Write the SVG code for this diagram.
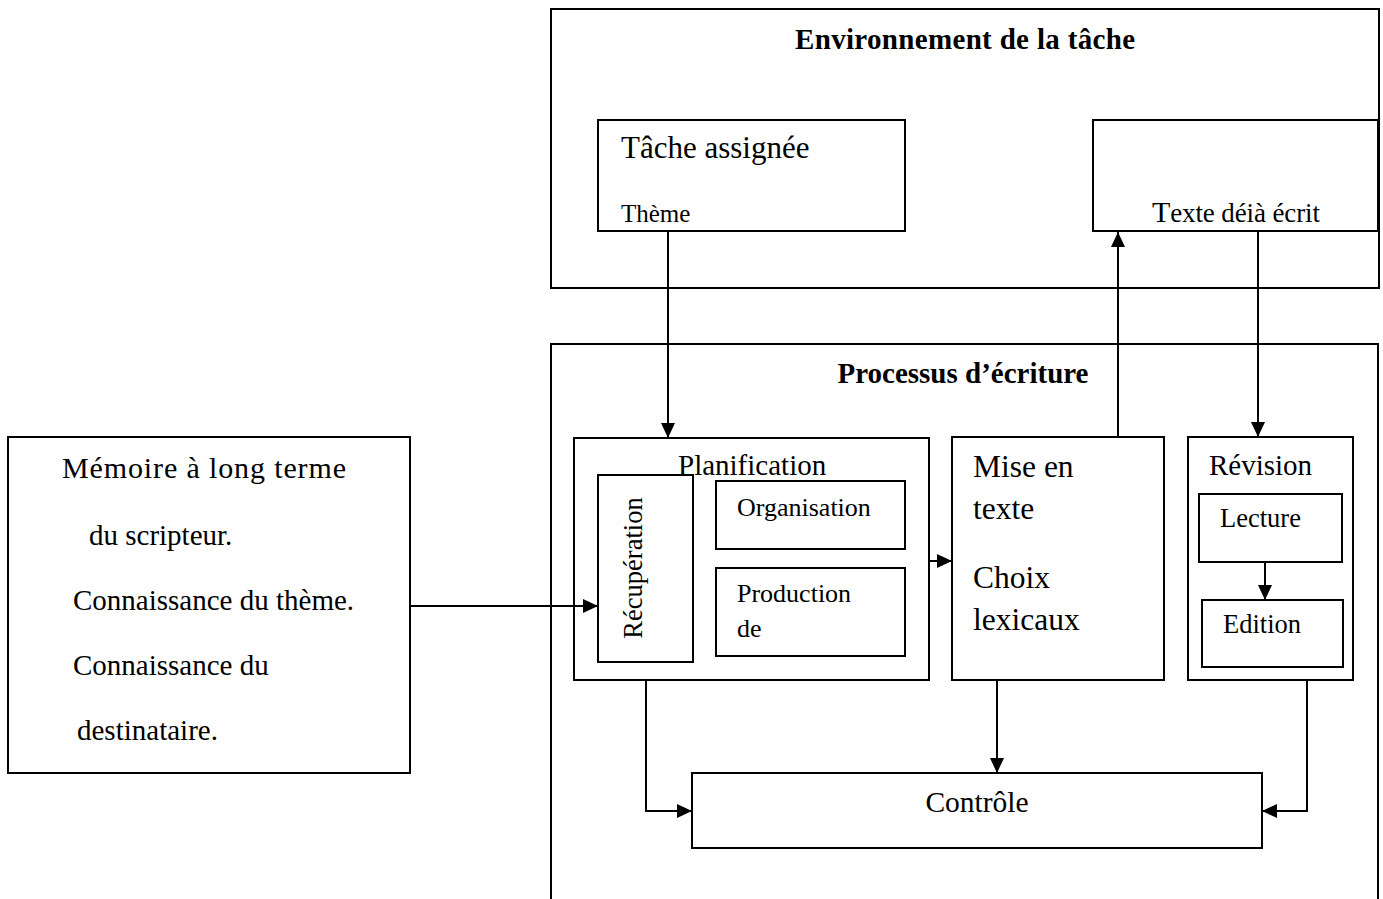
<svg xmlns="http://www.w3.org/2000/svg" width="1383" height="899" viewBox="0 0 1383 899">
  <style>
    text { font-family: "Liberation Serif", "Times New Roman", serif; fill: #000; }
    .b { fill: #fff; stroke: #000; stroke-width: 2; }
    .t { font-weight: bold; font-size: 29px; }
    .c { fill: none; stroke: #000; stroke-width: 2; }
  </style>
  <defs>
    <marker id="ah" markerWidth="15" markerHeight="15" refX="15" refY="7.5" orient="auto" markerUnits="userSpaceOnUse">
      <path d="M0,0.5 L15,7.5 L0,14.5 z" fill="#000"/>
    </marker>
    <clipPath id="clipTop">
      <rect x="590" y="110" width="800" height="113"/>
    </clipPath>
  </defs>
  <rect width="1383" height="899" fill="#fff"/>

  <g id="environnement">
    <rect class="b" x="551" y="9" width="828" height="279"/>
    <text class="t" x="965" y="49" text-anchor="middle" textLength="340">Environnement de la tâche</text>
  </g>

  <g id="tache-assignee">
    <rect class="b" x="598" y="120" width="307" height="111"/>
    <text x="621" y="158" font-size="31">Tâche assignée</text>
    <text x="621" y="222" font-size="25" clip-path="url(#clipTop)">Thème</text>
  </g>

  <g id="texte-deja-ecrit">
    <rect class="b" x="1093" y="120" width="285" height="111"/>
    <text x="1152" y="222" font-size="27" textLength="168" clip-path="url(#clipTop)"><tspan font-size="30">T</tspan>exte déià écrit</text>
  </g>

  <g id="processus">
    <rect class="b" x="551" y="344" width="827" height="600"/>
    <text class="t" x="963" y="383" text-anchor="middle">Processus d’écriture</text>
  </g>

  <g id="memoire">
    <rect class="b" x="8" y="437" width="402" height="336"/>
    <text x="62" y="478" font-size="30" textLength="284">Mémoire à long terme</text>
    <text x="89" y="545" font-size="29">du scripteur.</text>
    <text x="73" y="610" font-size="29">Connaissance du thème.</text>
    <text x="73" y="675" font-size="29">Connaissance du</text>
    <text x="77" y="740" font-size="29">destinataire.</text>
  </g>

  <g id="planification">
    <rect class="b" x="574" y="438" width="355" height="242"/>
    <text x="678" y="475" font-size="29">Planification</text>
    <g id="recuperation">
      <rect class="b" x="598" y="475" width="95" height="187"/>
      <text x="0" y="0" font-size="26.5" text-anchor="middle" transform="translate(642 568) rotate(-90)">Récupération</text>
    </g>
    <g id="organisation">
      <rect class="b" x="716" y="481" width="189" height="68"/>
      <text x="737" y="516" font-size="26">Organisation</text>
    </g>
    <g id="production">
      <rect class="b" x="716" y="568" width="189" height="88"/>
      <text x="737" y="602" font-size="26">Production</text>
      <text x="737" y="637" font-size="26">de</text>
    </g>
  </g>

  <g id="mise-en-texte">
    <rect class="b" x="952" y="437" width="212" height="243"/>
    <text x="973" y="477" font-size="31.5">Mise en</text>
    <text x="973" y="519" font-size="31.5">texte</text>
    <text x="973" y="588" font-size="31.5">Choix</text>
    <text x="973" y="630" font-size="31.5">lexicaux</text>
  </g>

  <g id="revision">
    <rect class="b" x="1188" y="437" width="165" height="243"/>
    <text x="1209" y="475" font-size="29">Révision</text>
    <g id="lecture">
      <rect class="b" x="1199" y="494" width="143" height="68"/>
      <text x="1220" y="527" font-size="26.5">Lecture</text>
    </g>
    <g id="edition">
      <rect class="b" x="1202" y="600" width="141" height="67"/>
      <text x="1223" y="633" font-size="26.5">Edition</text>
    </g>
  </g>

  <g id="controle">
    <rect class="b" x="692" y="773" width="570" height="75"/>
    <text x="977" y="812" font-size="29.5" text-anchor="middle">Contrôle</text>
  </g>

  <g id="connectors">
    <path class="c" d="M668,231 L668,438" marker-end="url(#ah)"/>
    <path class="c" d="M1118,437 L1118,232" marker-end="url(#ah)"/>
    <path class="c" d="M1258,231 L1258,437" marker-end="url(#ah)"/>
    <path class="c" d="M410,606 L598,606" marker-end="url(#ah)"/>
    <path class="c" d="M929,561 L952,561" marker-end="url(#ah)"/>
    <path class="c" d="M1265,562 L1265,600" marker-end="url(#ah)"/>
    <path class="c" d="M646,680 L646,811 L692,811" marker-end="url(#ah)"/>
    <path class="c" d="M997,680 L997,773" marker-end="url(#ah)"/>
    <path class="c" d="M1307,680 L1307,811 L1262,811" marker-end="url(#ah)"/>
  </g>
</svg>
